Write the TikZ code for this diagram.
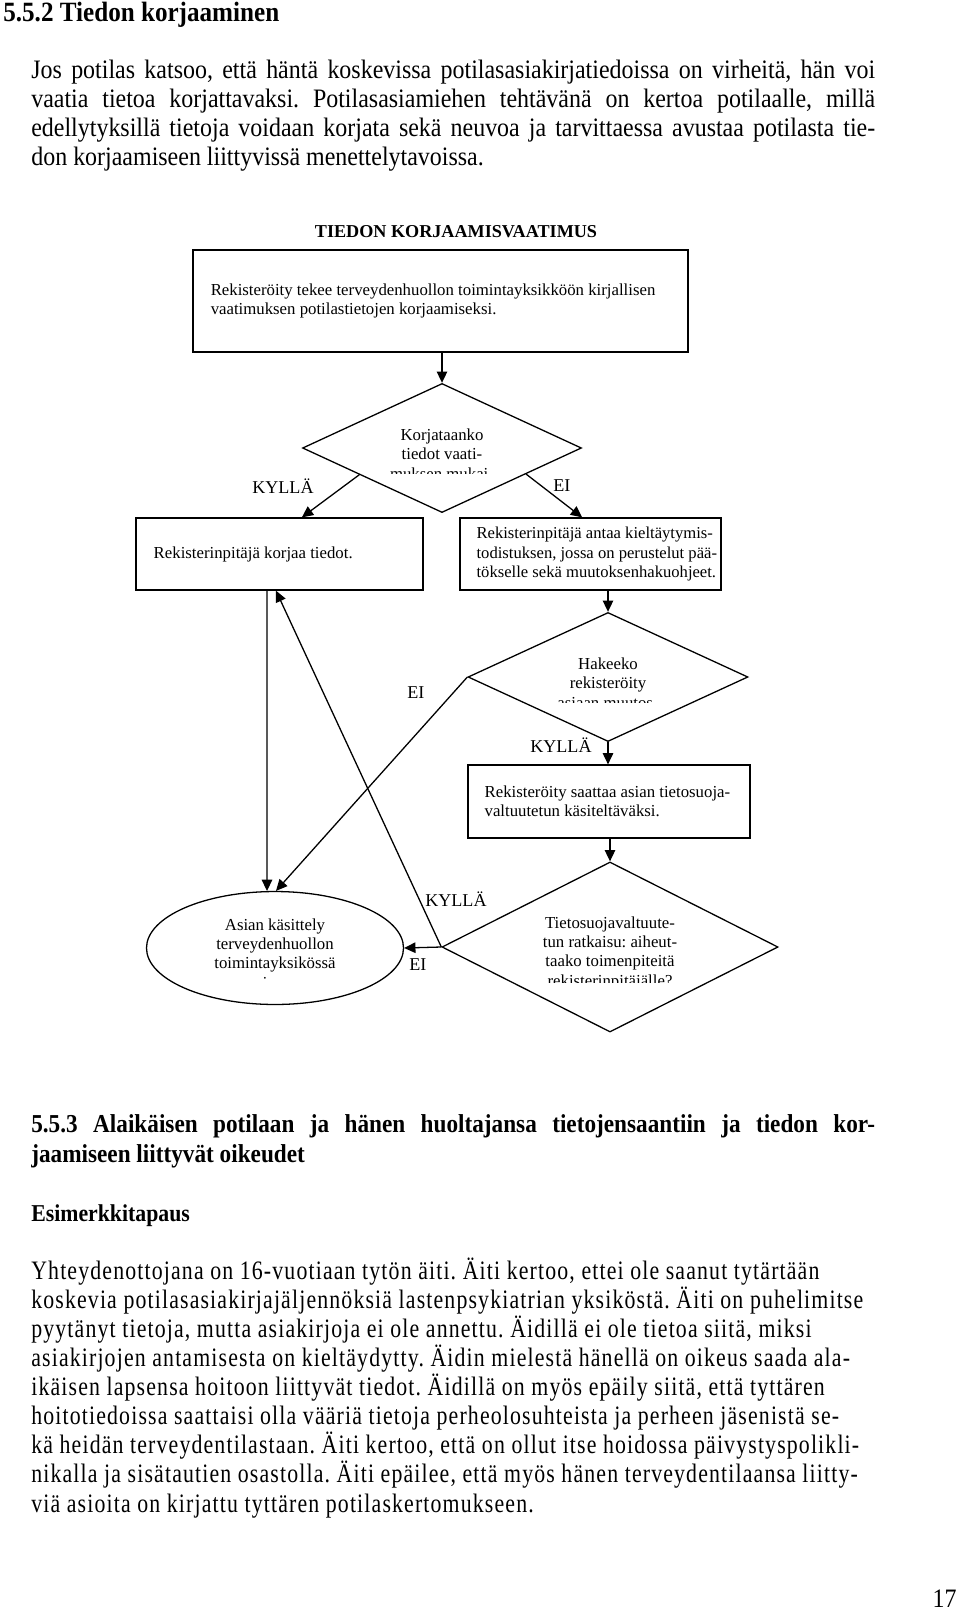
\documentclass[tikz,border=0pt]{standalone}
\usepackage{fontspec}
\setmainfont{Liberation Serif}
\newfontfamily\condfont[FakeStretch=0.9]{Liberation Serif}
\newfontfamily\spacedfont[FakeStretch=0.82,LetterSpace=4.3]{Liberation Serif}
\usetikzlibrary{shapes.geometric,arrows.meta,calc,positioning}
\frenchspacing

\begin{document}
\begin{tikzpicture}[x=0.6198pt, y=-0.6198pt,
            box/.style={rectangle, draw, line width=0.8pt, inner sep=0pt},
            decision/.style={diamond, draw, line width=0.8pt, inner sep=0pt},
            endstate/.style={ellipse, draw, line width=0.8pt, inner sep=0pt},
            txt/.style={inner sep=0pt, align=left, font=\fontsize{10.4}{11.8}\selectfont},
            ctxt/.style={inner sep=0pt, align=center, font=\fontsize{10.4}{11.8}\selectfont},
            answer/.style={inner sep=0pt, font=\fontsize{11.2}{13}\selectfont},
            para/.style={inner sep=0pt, align=left, font=\fontsize{16.5}{18}\condfont},
            arrow/.style={-{Triangle[length=7pt,width=6.5pt]}, line width=0.8pt}
        ]
            % Page
            \fill[white] (0,0) rectangle (960,1611);
            \useasboundingbox (0,0) rectangle (960,1611);

            % Heading and intro (base = last line)
            \node[para, anchor=base west, font=\fontsize{17.3}{20}\condfont\bfseries] (head1) at (3,22) {5.5.2 Tiedon korjaaminen};
            \node[para, anchor=base west] (intro) at (31,166) {%
                \makebox[523pt][s]{Jos potilas katsoo, että häntä koskevissa potilasasiakirjatiedoissa on virheitä, hän voi}\\
                \makebox[523pt][s]{vaatia tietoa korjattavaksi. Potilasasiamiehen tehtävänä on kertoa potilaalle, millä}\\
                \makebox[523pt][s]{edellytyksillä tietoja voidaan korjata sekä neuvoa ja tarvittaessa avustaa potilasta tie-}\\
                don korjaamiseen liittyvissä menettelytavoissa.};

            % Title
            \node[answer, anchor=base, font=\fontsize{11.25}{13}\selectfont\bfseries] (title) at (456,237) {TIEDON KORJAAMISVAATIMUS};

            % Request
            \node[box, minimum width=306.8pt, minimum height=63.2pt] (req) at (440.5,301) {};
            \node[txt, right=11.2pt of req.west] (reqtxt) {Rekisteröity tekee terveydenhuollon toimintayksikköön kirjallisen\\vaatimuksen potilastietojen korjaamiseksi.};

            % First decision
            \node[decision, minimum width=172.9pt, minimum height=80pt] (fix) at (442,448) {};
            \begin{scope}
                \clip (300,400) rectangle (585,473);
                \node[ctxt, anchor=base] (fixtxt) at (442,479) {Korjataanko\\tiedot vaati-\\muksen mukai-};
            \end{scope}
            \node[answer, anchor=base west] (yes1) at (252,493) {KYLLÄ};
            \node[answer, anchor=base west] (no1) at (553,491) {EI};

            % Outcomes
            \node[box, minimum width=177.9pt, minimum height=44.6pt] (fixed) at (279.5,554) {};
            \node[txt, right=11.2pt of fixed.west] (fixedtxt) {Rekisterinpitäjä korjaa tiedot.};
            \node[box, minimum width=161.8pt, minimum height=44.6pt] (refusal) at (590.5,554) {};
            \node[txt, right=10.5pt of refusal.west, font=\fontsize{10.3}{11.8}\selectfont] (refusaltxt) {Rekisterinpitäjä antaa kieltäytymis-\\todistuksen, jossa on perustelut pää-\\tökselle sekä muutoksenhakuohjeet.};

            % Second decision
            \node[decision, minimum width=173.5pt, minimum height=80pt] (appeal) at (608,677) {};
            \begin{scope}
                \clip (460,620) rectangle (750,702);
                \node[ctxt, anchor=base] (appealtxt) at (608,708) {Hakeeko\\rekisteröity\\asiaan muutos-};
            \end{scope}
            \node[answer, anchor=base west] (no2) at (407,698) {EI};
            \node[answer, anchor=base west] (yes2) at (530,752) {KYLLÄ};

            \node[box, minimum width=174.8pt, minimum height=45.2pt] (complaint) at (609,801.5) {};
            \node[txt, right=10.5pt of complaint.west] (complainttxt) {Rekisteröity saattaa asian tietosuoja-\\valtuutetun käsiteltäväksi.};

            % Third decision
            \node[decision, minimum width=208.3pt, minimum height=105.4pt] (ruling) at (610,947) {};
            \begin{scope}
                \clip (445,880) rectangle (775,982);
                \node[ctxt, anchor=base] (rulingtxt) at (610,986) {Tietosuojavaltuute-\\tun ratkaisu: aiheut-\\taako toimenpiteitä\\rekisterinpitäjälle?};
            \end{scope}
            \node[answer, anchor=base west] (yes3) at (425,906) {KYLLÄ};
            \node[answer, anchor=base west] (no3) at (409,970) {EI};

            % End
            \node[endstate, minimum width=159.3pt, minimum height=70pt] (unit) at (275,948) {};
            \begin{scope}
                \clip (150,890) rectangle (400,979);
                \node[ctxt, anchor=base] (unittxt) at (275,988) {Asian käsittely\\terveydenhuollon\\toimintayksikössä\\jne.};
            \end{scope}

            % Arrows
            \draw[arrow] (fix.north |- req.south) -- (fix.north);
            \draw[arrow] ($(fix.west)!0.41!(fix.south)$) -- (fix.west |- fixed.north);
            \draw[arrow] ($(fix.east)!0.4!(fix.south)$) -- (fix.east |- refusal.north);
            \draw[arrow] (appeal.north |- refusal.south) -- (appeal.north);
            \draw[arrow] (appeal.south) -- (appeal.south |- complaint.north);
            \draw[arrow] (ruling.north |- complaint.south) -- (ruling.north);
            \draw[arrow] ([xshift=-7.7pt]fixed.south) -- (unit.98);
            \draw[arrow] (appeal.west) -- (unit.89);
            \draw[arrow] (ruling.west) -- ([xshift=-2.2pt]fixed.south);
            \draw[arrow] (ruling.west) -- (unit.east);

            % Next section
            \node[para, anchor=base west, font=\fontsize{16}{18.5}\condfont\bfseries] (head2) at (31,1162) {%
                \makebox[523pt][s]{5.5.3 Alaikäisen potilaan ja hänen huoltajansa tietojensaantiin ja tiedon kor-}\\
                jaamiseen liittyvät oikeudet};
            \node[para, anchor=base west, font=\fontsize{15}{18}\condfont\bfseries] (head3) at (31,1221) {Esimerkkitapaus};
            \node[para, anchor=base west, font=\fontsize{16.5}{18}\spacedfont] (case) at (31,1512) {%
                Yhteydenottojana on 16-vuotiaan tytön äiti. Äiti kertoo, ettei ole saanut tytärtään\\
                koskevia potilasasiakirjajäljennöksiä lastenpsykiatrian yksiköstä. Äiti on puhelimitse\\
                pyytänyt tietoja, mutta asiakirjoja ei ole annettu. Äidillä ei ole tietoa siitä, miksi\\
                asiakirjojen antamisesta on kieltäydytty. Äidin mielestä hänellä on oikeus saada ala-\\
                ikäisen lapsensa hoitoon liittyvät tiedot. Äidillä on myös epäily siitä, että tyttären\\
                hoitotiedoissa saattaisi olla vääriä tietoja perheolosuhteista ja perheen jäsenistä se-\\
                kä heidän terveydentilastaan. Äiti kertoo, että on ollut itse hoidossa päivystyspolikli-\\
                nikalla ja sisätautien osastolla. Äiti epäilee, että myös hänen terveydentilaansa liitty-\\
                viä asioita on kirjattu tyttären potilaskertomukseen.};
            \node[para, anchor=base east] (pageno) at (957,1607) {17};
        \end{tikzpicture}
\end{document}
